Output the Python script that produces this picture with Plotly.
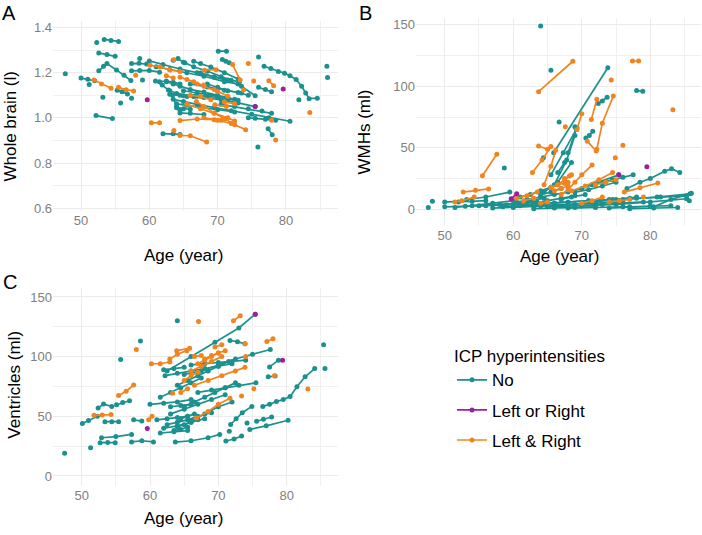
import plotly.graph_objects as go

# ---------------- data (age in years, value) ----------------
GROUPS = ["No", "Left or Right", "Left & Right"]
COLORS = {"No": "#1b918f", "Left or Right": "#9c1f9c", "Left & Right": "#f2841f"}

# Panel A: whole brain volume (l)
A_NO = [
    ([47.7], [1.195]), ([50.0, 51.0, 52.0], [1.176, 1.171, 1.164]), ([51.2], [1.148]), ([52.3], [1.333]),
    ([53.4, 54.4, 55.5], [1.347, 1.342, 1.338]), ([52.6, 53.8, 55.0], [1.287, 1.280, 1.272]),
    ([52.6, 53.3, 53.8, 55.2, 56.3, 57.3], [1.208, 1.228, 1.240, 1.212, 1.188, 1.165]),
    ([53.2], [1.091]), ([52.2, 54.6], [1.010, 0.997]), ([55.3, 56.0, 56.8], [1.122, 1.115, 1.106]),
    ([55.8], [1.066]), ([57.4], [1.087]), ([58.6], [1.262]), ([59.0], [1.167]),
    ([57.4, 58.5, 59.6], [1.240, 1.241, 1.238]), ([57.4, 58.6, 60.0, 61.5], [1.208, 1.210, 1.210, 1.202]),
    ([60.0, 62.0, 64.5, 67.0, 69.5, 71.5, 73.2], [1.252, 1.236, 1.216, 1.200, 1.182, 1.168, 1.160]),
    ([61.0, 63.0, 65.5, 68.0, 71.0, 73.0], [1.226, 1.214, 1.200, 1.184, 1.160, 1.150]),
    ([63.5, 64.2, 65.0], [1.255, 1.262, 1.246]),
    ([65.2, 66.5, 68.5, 70.5, 72.0], [1.244, 1.226, 1.206, 1.182, 1.166]),
    ([66.5, 67.5, 69.0, 71.0, 73.0], [1.250, 1.240, 1.225, 1.200, 1.172]),
    ([60.9, 61.9, 62.8, 63.4, 64.0, 64.5], [1.163, 1.145, 1.123, 1.100, 1.050, 1.033]),
    ([62.5, 63.5, 64.5, 66.0, 68.0, 70.0, 72.5], [1.160, 1.150, 1.140, 1.126, 1.114, 1.100, 1.082]),
    ([63.0, 64.5, 66.5, 68.0, 70.5, 73.0, 75.5], [1.105, 1.100, 1.094, 1.090, 1.080, 1.066, 1.050]),
    ([63.5, 65.0, 67.0, 69.5, 72.0, 75.0, 77.5, 80.6], [1.082, 1.072, 1.060, 1.046, 1.032, 1.016, 1.000, 0.985]),
    ([64.0, 65.5, 67.5, 70.0, 72.5], [1.062, 1.056, 1.048, 1.036, 1.026]),
    ([62.0, 63.5, 64.5], [0.930, 0.930, 0.927]), ([64.5, 66.0, 68.0], [1.022, 1.020, 1.015]),
    ([65.0, 67.0, 69.0, 71.5], [1.120, 1.110, 1.100, 1.088]),
    ([66.0, 68.5, 71.0, 73.5], [1.150, 1.136, 1.122, 1.110]),
    ([67.5, 69.5, 71.5, 73.5, 75.5], [1.198, 1.180, 1.164, 1.140, 1.098]),
    ([70.1, 71.3], [1.295, 1.295]), ([70.7, 71.2, 71.7], [1.258, 1.250, 1.244]), ([76.0], [1.269]),
    ([76.8, 77.8, 78.9, 79.8, 80.6, 81.5, 82.3, 82.9, 83.4, 84.6],
     [1.228, 1.218, 1.205, 1.197, 1.186, 1.170, 1.140, 1.110, 1.085, 1.087]),
    ([86.0], [1.228]), ([86.1], [1.179]), ([76.0, 77.0, 77.9], [1.135, 1.125, 1.115]), ([81.9], [1.080]),
    ([77.4, 78.0], [0.952, 0.925]), ([75.9], [0.871]),
    ([70.5, 72.5, 74.5, 76.5, 77.9], [1.060, 1.050, 1.040, 1.030, 1.020]),
    ([61.5, 62.5, 63.5, 64.5], [1.160, 1.163, 1.158, 1.150]),
    ([63.0, 64.0, 65.0, 66.5], [1.120, 1.108, 1.098, 1.096]),
    ([65.5, 67.0, 68.5, 70.0, 71.5, 73.0], [1.095, 1.096, 1.095, 1.090, 1.082, 1.078]),
    ([68.5, 70.0, 71.5, 73.0, 74.5], [1.150, 1.135, 1.120, 1.112, 1.100]),
    ([64.0, 65.0, 66.0], [1.045, 1.040, 1.038]), ([74.5, 75.5, 77.0, 78.5], [1.000, 0.998, 0.994, 0.990]),
]
A_BOTH = [
    ([51.9, 53.0, 54.4], [1.167, 1.150, 1.131]), ([55.5, 56.6, 57.7], [1.135, 1.124, 1.119]), ([58.0], [1.189]),
    ([60.3, 61.5], [0.978, 0.978]), ([63.6], [0.944]), ([64.5, 66.0, 68.4], [0.922, 0.921, 0.893]),
    ([66.9, 68.0, 69.5, 71.0, 72.5, 74.1], [1.072, 1.050, 1.022, 0.996, 0.970, 0.948]),
    ([69.6, 71.3], [1.058, 1.050]), ([68.1, 69.8], [1.211, 1.213]), ([72.2, 73.3], [1.236, 1.167]),
    ([74.5], [1.240]), ([75.3], [1.163]), ([77.5, 78.2], [1.164, 1.142]), ([77.9], [0.989]), ([83.5], [1.024]),
    ([73.8], [1.123]), ([63.6], [1.257]), ([78.5], [0.902]),
    ([60.1, 61.6, 63.0, 64.5], [1.233, 1.225, 1.212, 1.205]),
    ([64.5, 65.5, 66.5, 68.0, 70.0], [1.180, 1.170, 1.160, 1.140, 1.116]),
    ([64.5, 67.0, 69.5, 70.5], [0.988, 0.995, 0.992, 0.990]),
    ([65.5, 67.5, 69.5, 71.5, 72.5], [1.060, 1.040, 1.020, 1.000, 0.986]),
    ([68.0, 70.0, 72.0], [1.000, 0.990, 0.975]), ([66.0, 67.5, 69.0], [1.100, 1.094, 1.080]),
    ([62.5, 63.5], [1.186, 1.176]), ([69.5, 71.5], [1.126, 1.096]), ([67.0, 68.0], [1.150, 1.145]),
    ([71.0, 72.5], [1.070, 1.062]),
]
A_ONE = [([59.7], [1.080]), ([75.5], [1.050]), ([79.6], [1.128])]

# Panel B: white matter hyperintensities (ml)
B_NO = [
    ([64.0], [149]), ([65.5], [113]), ([47.6], [1.5]), ([48.2], [6.5]), ([58.7], [33.5]), ([64.4], [42]),
    ([65.9, 73.8], [46, 115]), ([66.7], [71]), ([69.0], [67]), ([70.6, 71.1, 71.6], [58, 60, 63.5]),
    ([72.4, 73.0, 73.7], [86, 88, 91]), ([78.0, 78.9], [96.5, 96]), ([65.5, 67.3, 69.3], [28, 46, 66]),
    ([66.0, 67.8, 69.0], [20, 40, 60]), ([64.5, 66.5, 68.5], [14, 22, 38]), ([68.0, 69.2], [46, 65]),
    ([62.0, 64.0, 66.0, 68.0, 70.0, 72.0, 75.4], [8, 10, 12, 14, 17, 21, 28]),
    ([76.6, 78.5, 80.0, 82.1, 83.1, 84.3], [17, 22, 25, 31, 33, 30]),
    ([50.0, 52.0, 54.0, 56.0], [6, 6, 6.5, 7]), ([50.0, 53.0, 56.0, 59.0, 62.0], [2, 2.5, 3, 3.5, 4]),
    ([51.5, 54.0, 57.0, 60.0], [1.5, 3, 5, 7]), ([53.2, 56.0, 59.5], [8, 10, 14]),
    ([55.0, 58.0, 61.0, 63.5], [3, 4, 5, 6]), ([57.0, 60.0, 63.0, 66.0, 69.0], [1, 1.5, 2, 3, 4]),
    ([60.0, 64.0, 68.0, 72.0, 76.0], [2, 3, 4, 5, 6]), ([62.0, 65.0, 68.0, 71.0, 74.0, 77.0], [4, 5, 6, 7, 8, 9]),
    ([63.0, 66.0, 69.0, 72.0], [0.5, 1, 1.5, 2]), ([65.0, 70.0, 75.0, 80.0, 85.3], [2, 3, 4, 6, 8.6]),
    ([66.0, 71.0, 76.0, 81.0, 85.8], [5, 7, 8, 10, 12.6]), ([68.0, 72.0, 76.0, 80.0], [1, 1.5, 2, 2.5]),
    ([70.0, 73.0, 76.0, 79.0], [3, 4, 5, 6]), ([72.0, 75.0, 78.0], [6, 8, 10]),
    ([74.0, 77.0, 80.0, 83.0], [1, 2, 2.5, 3]), ([74.5, 78.0, 81.5, 85.3], [8, 9, 10, 11]),
    ([77.0, 80.5, 84.0], [0.5, 1, 1.5]), ([64.0, 65.5, 67.0], [12, 14, 17]), ([60.5, 62.5, 64.5], [6, 7, 9]),
    ([67.0, 68.5, 70.5], [8, 10, 12]), ([85.7], [7]), ([71.5, 73.0, 74.5, 76.0, 77.5], [20, 22, 24, 26, 28]),
    ([69.0, 71.0, 73.0, 75.0], [14, 16, 19, 22]), ([63.0, 65.0, 67.0, 69.0], [5, 7, 9, 11]),
    ([58.5, 61.0, 63.5, 66.0], [2, 3, 4, 5]), ([61.0, 62.5, 64.0, 65.5], [10, 12, 15, 18]),
    ([66.5, 67.5], [30, 38]), ([80.5, 83.0, 86.0], [2, 8, 13]),
]
B_BOTH = [
    ([55.5, 57.6], [27.3, 44.7]), ([52.7, 54.5, 56.4], [14, 15.5, 16.6]), ([51.5, 52.5, 54.3], [6, 7, 10]),
    ([63.7, 68.7], [95.6, 120.3]), ([77.4, 78.3], [120.5, 120.5]), ([74.3], [105]), ([71.4, 72.2], [73, 89.5]),
    ([72.2, 73.0, 74.6], [48.8, 70, 92]), ([69.3, 70.0], [64.8, 77.7]), ([67.6], [67]),
    ([63.7, 65.0], [51.4, 48.8]), ([76.0], [52]), ([74.9], [42]), ([83.3], [81]),
    ([76.2, 78.5, 81.1], [14, 17.5, 21.4]), ([64.5, 65.5, 66.2], [20, 35, 48]),
    ([65.5, 66.5, 67.5, 68.5], [18, 20, 24, 28]), ([66.0, 67.0, 68.0], [15, 17, 19]),
    ([67.0, 68.0, 69.0, 70.0, 71.5], [12, 16, 22, 28, 36]), ([68.5, 70.5, 72.5, 74.5], [15, 19, 24, 30]),
    ([70.0, 71.5, 73.0], [5, 7, 10]), ([72.0, 73.5, 75.0], [20, 22, 24]), ([66.5, 67.5, 68.0], [20, 21, 22]),
    ([64.0, 65.0], [5, 6]), ([70.8, 72.1], [55.4, 47.4]), ([67.5, 68.2], [25, 27]), ([61.5, 63.0], [7, 9]),
    ([74.0, 75.5, 77.0], [6, 7, 8]), ([79.0], [10]), ([60.5, 62.0, 63.5], [9, 11, 14]),
    ([62.8, 64.2, 65.5], [30, 40, 51]),
]
B_ONE = [([59.7, 60.5], [8.6, 12.6]), ([75.4], [28]), ([79.5], [34.6])]

# Panel C: ventricles (ml)
C_NO = [
    ([47.5], [19]), ([51.3], [23.7]), ([50.1, 51.0, 52.3], [43.9, 46.5, 50.0]),
    ([52.4, 53.2, 54.4], [56.9, 60.2, 58.3]), ([52.7, 53.8, 54.9], [27.9, 28, 27.9]),
    ([52.9, 55.0, 57.3], [32.0, 33.0, 34.8]), ([53.4, 54.4, 55.4], [45.5, 45.5, 45.5]),
    ([55.1, 56.0, 57.0], [59.7, 61.5, 63.0]), ([55.7], [97.5]), ([58.6], [113]),
    ([57.3, 58.8, 60.5], [28.5, 29.5, 28.5]), ([57.6, 58.8], [47, 46]),
    ([63.7, 66.0, 68.5, 70.2], [28.4, 29.5, 32, 34.8]), ([60.0, 62.0, 64.0, 66.0], [60, 61, 62, 64]),
    ([61.5, 63.5, 65.5], [36, 37, 38]), ([62.0, 64.0, 66.0, 68.0], [40, 42, 45, 48]),
    ([62.5, 64.0, 65.5, 67.0, 69.0], [43, 45, 47, 50, 53]), ([61.0, 62.5, 64.0, 65.5], [47, 48, 49, 50]),
    ([63.0, 65.0, 67.0, 69.0, 71.0], [52, 56, 60, 64, 68]), ([61.5, 63.0, 64.5, 66.0, 67.5], [66, 70, 74, 78, 82]),
    ([62.2, 64.0, 66.0, 68.0, 70.0, 72.0], [84, 86, 88, 90, 92, 94]),
    ([62.5, 66.0, 69.5, 73.0, 75.4], [88, 100, 112, 124, 135.6]),
    ([65.0, 67.5, 70.0, 72.5, 75.0, 77.6], [85, 88, 93, 98, 102, 106]),
    ([64.0, 65.5, 67.0, 68.5, 70.0, 71.5], [76, 80, 84, 88, 92, 96]),
    ([65.0, 66.5, 68.0, 69.5, 71.0, 72.5], [58, 62, 66, 70, 74, 78]), ([66.0, 68.0, 70.0, 72.0], [46, 52, 58, 62]),
    ([67.0, 69.0, 71.0, 73.0, 75.5], [70, 72, 74, 76, 78]), ([64.0], [130]),
    ([71.7, 72.8, 73.9], [113.5, 112.5, 110.7]), ([71.1, 72.3, 73.4], [29.3, 31, 33.4]), ([71.6], [37.5]),
    ([71.8, 72.6, 73.5, 74.9], [43.1, 48, 53, 58.3]), ([74.2], [44.4]), ([74.6, 77.0, 80.2], [39, 42, 46.7]),
    ([75.6, 76.6, 77.8], [45.8, 47.5, 49.4]), ([77.3, 78.3], [83.1, 83.7]), ([77.5, 78.8], [91.4, 97]),
    ([76.5, 77.5, 78.5, 79.5, 80.5, 81.5, 82.7, 84.1], [58.3, 60, 62.4, 64, 66.6, 74.8, 83.1, 90]),
    ([85.4], [110]), ([85.6], [90]), ([63.5, 64.5, 65.5], [38, 39, 41]), ([64.0, 65.0, 66.0, 67.0], [41, 43, 45, 47]),
    ([66.0, 68.0, 70.0, 72.0, 74.0], [93, 94, 95, 96, 97]), ([64.5, 65.5, 66.5], [48, 50, 52]),
    ([63.0, 64.5, 66.0], [58, 59, 60]), ([62.0, 63.5, 65.0], [89, 90, 91]),
]
C_BOTH = [
    ([51.8, 53.0, 54.3], [50.8, 51, 51.4]), ([55.4, 56.5, 57.6], [67.4, 71, 76.2]), ([58.0], [106]),
    ([59.8, 60.3], [47, 50]), ([60.2, 61.5, 62.9], [94, 94, 95.5]), ([62.9, 64.0, 65.4], [98, 102, 105]),
    ([63.9, 65.8], [105, 107]), ([67.1], [129.5]), ([72.2, 73.2], [130, 134.2]), ([77.1, 78.0], [112.7, 115]),
    ([83.1], [72.9]), ([75.2], [73]), ([73.4], [67.1]), ([66.8, 68.5, 70.0, 71.7], [48.6, 54, 60, 65.1]),
    ([66.5, 68.5, 70.5, 72.5, 73.9], [76, 80, 84, 88, 91]), ([67.0, 68.0, 69.0, 70.0, 71.0], [94, 97, 100, 103, 105]),
    ([66.0, 67.5, 69.0, 70.5], [88, 92, 96, 100]), ([68.0, 69.0, 70.0], [98, 101, 103]),
    ([65.0, 66.0, 67.0], [80, 84, 87]), ([64.5, 65.5], [70, 73]), ([69.5, 70.5], [108, 110]),
    ([74.0], [100]), ([73.9], [110.7]), ([78.2], [84]), ([63.3], [69.3]), ([66.5, 67.5], [100, 101]),
]
C_ONE = [([59.6], [39.8]), ([75.4], [135.6]), ([79.4], [97])]

# ---------------- figure ----------------
W, H = 702, 535
FONT = "Liberation Sans, Arial, sans-serif"
fig = go.Figure()

panels = [
    ("x", "y", {"No": A_NO, "Left & Right": A_BOTH, "Left or Right": A_ONE}, True),
    ("x2", "y2", {"No": B_NO, "Left & Right": B_BOTH, "Left or Right": B_ONE}, False),
    ("x3", "y3", {"No": C_NO, "Left & Right": C_BOTH, "Left or Right": C_ONE}, False),
]
rank = {"No": 1, "Left or Right": 2, "Left & Right": 3}
for xa, ya, data, show in panels:
    for g in ["No", "Left & Right", "Left or Right"]:
        xs, ys = [], []
        for ages, vals in data[g]:
            xs += list(ages) + [None]
            ys += list(vals) + [None]
        fig.add_trace(go.Scatter(
            x=xs, y=ys, xaxis=xa, yaxis=ya, mode="lines+markers", name=g,
            line=dict(color=COLORS[g], width=1.7), marker=dict(color=COLORS[g], size=5),
            connectgaps=False, legendgroup=g, showlegend=show, legendrank=rank[g],
            hoverinfo="skip"))

def xax(d0, d1, rng, anchor):
    return dict(domain=[d0 / W, d1 / W], range=rng, anchor=anchor, tickvals=[50, 60, 70, 80],
                showline=False, zeroline=False, ticks="", gridcolor="#ebebeb", gridwidth=1,
                tickfont=dict(size=13, color="#808080", family=FONT),
                minor=dict(tickvals=[45, 55, 65, 75, 85], showgrid=True, gridcolor="#f0f0f0", gridwidth=0.8))

def yax(top, bot, rng, anchor, major, minor, fmt):
    return dict(domain=[1 - bot / H, 1 - top / H], range=rng, anchor=anchor, tickvals=major,
                tickformat=fmt, showline=False, zeroline=False, ticks="", gridcolor="#ebebeb", gridwidth=1,
                tickfont=dict(size=13, color="#808080", family=FONT),
                minor=dict(tickvals=minor, showgrid=True, gridcolor="#f0f0f0", gridwidth=0.8))

fig.update_layout(
    width=W, height=H, margin=dict(l=0, r=0, t=0, b=0), plot_bgcolor="white", paper_bgcolor="white",
    font=dict(family=FONT, color="black"),
    xaxis=xax(53, 338, [45.9, 87.63], "y"),
    yaxis=yax(20, 212, [0.5899, 1.4293], "x", [0.6, 0.8, 1.0, 1.2, 1.4], [0.7, 0.9, 1.1, 1.3], ".1f"),
    xaxis2=xax(416, 701, [45.81, 87.4], "y2"),
    yaxis2=yax(17, 228, [-13.9, 155.6], "x2", [0, 50, 100, 150], [25, 75, 125], "d"),
    xaxis3=xax(53, 338, [45.8, 87.51], "y3"),
    yaxis3=yax(290, 490, [-8.0, 157.7], "x3", [0, 50, 100, 150], [25, 75, 125], "d"),
    legend=dict(x=452 / W, y=1 - 343 / H, xanchor="left", yanchor="top",
                title=dict(text="ICP hyperintensities", font=dict(size=17, family=FONT)),
                font=dict(size=17, family=FONT), itemwidth=30, traceorder="grouped",
                tracegroupgap=5, bgcolor="rgba(0,0,0,0)"),
    showlegend=True,
)

ann = []
def text(x, y, s, size, angle=0):
    ann.append(dict(x=x / W, y=1 - y / H, xref="paper", yref="paper", text=s, showarrow=False,
                    xanchor="center", yanchor="middle", textangle=angle,
                    font=dict(size=size, family=FONT, color="black")))

text(183.5, 257, "Age (year)", 17)
text(559, 258, "Age (year)", 17)
text(183, 523, "Age (year)", 17)
text(11, 127, "Whole brain (l)", 17, -90)
text(365, 133, "WMHs (ml)", 17, -90)
text(15, 388, "Ventricles (ml)", 17, -90)
text(9, 12, "A", 20)
text(365, 12, "B", 20)
text(10, 284, "C", 20)
fig.update_layout(annotations=ann)

fig.write_html("out.html")
